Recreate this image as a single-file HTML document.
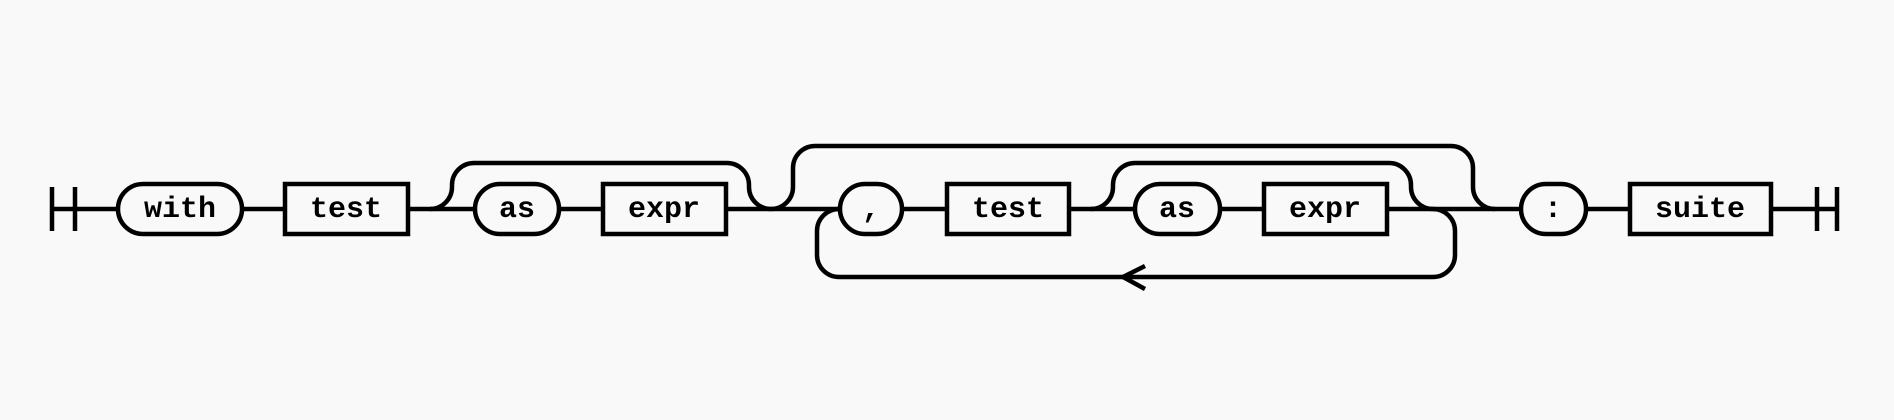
<!DOCTYPE html>
<html><head><style>
html,body{margin:0;padding:0;background:#f9f9f9;}
svg{display:block}
text{font-family:"Liberation Mono",monospace;font-weight:bold;font-size:30px;fill:#000;text-anchor:middle;dominant-baseline:central}
</style></head><body>
<svg width="1894" height="420" viewBox="0 0 1894 420" xmlns="http://www.w3.org/2000/svg">
<g fill="none" stroke="#000" stroke-width="4.5">
<line x1="52" y1="209" x2="1837" y2="209"/>
<line x1="52" y1="187" x2="52" y2="231"/>
<line x1="75" y1="187" x2="75" y2="231"/>
<line x1="1817" y1="187" x2="1817" y2="231"/>
<line x1="1837" y1="187" x2="1837" y2="231"/>
<path d="M430,209 a22,22 0 0 0 22,-22 v-2 a22,22 0 0 1 22,-22 H727 a22,22 0 0 1 22,22 v2 a22,22 0 0 0 22,22"/>
<path d="M771,209 a22,22 0 0 0 22,-22 v-19 a22,22 0 0 1 22,-22 H1451 a22,22 0 0 1 22,22 v19 a22,22 0 0 0 22,22"/>
<path d="M1091,209 a22,22 0 0 0 22,-22 v-2 a22,22 0 0 1 22,-22 H1389 a22,22 0 0 1 22,22 v2 a22,22 0 0 0 22,22"/>
<path d="M1433,209 a22,22 0 0 1 22,22 v24 a22,22 0 0 1 -22,22 H839 a22,22 0 0 1 -22,-22 v-24 a22,22 0 0 1 22,-22"/>
<polyline points="1145,266 1123,277 1145,289"/>
<g fill="#f9f9f9">
<rect x="118" y="184" width="124" height="50" rx="25"/>
<rect x="285" y="184" width="123" height="50"/>
<rect x="475" y="184" width="84" height="50" rx="25"/>
<rect x="603" y="184" width="123" height="50"/>
<rect x="840" y="184" width="62" height="50" rx="25"/>
<rect x="947" y="184" width="122" height="50"/>
<rect x="1135" y="184" width="85" height="50" rx="25"/>
<rect x="1264" y="184" width="123" height="50"/>
<rect x="1521" y="184" width="65" height="50" rx="25"/>
<rect x="1630" y="184" width="141" height="50"/>
</g>
</g>
<text x="180" y="210">with</text>
<text x="346" y="210">test</text>
<text x="517" y="210">as</text>
<text x="664" y="210">expr</text>
<text x="871" y="210">,</text>
<text x="1008" y="210">test</text>
<text x="1177" y="210">as</text>
<text x="1325" y="210">expr</text>
<text x="1553" y="210">:</text>
<text x="1700" y="210">suite</text>
</svg>
</body></html>
